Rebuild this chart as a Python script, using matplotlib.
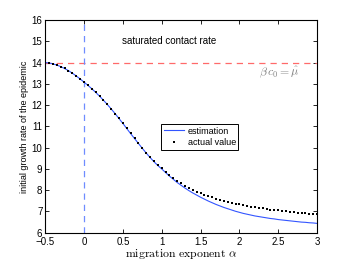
import numpy as np
import matplotlib
matplotlib.use("Agg")
import matplotlib.pyplot as plt

plt.rcParams['font.family'] = ['Liberation Sans', 'DejaVu Sans']
plt.rcParams['mathtext.fontset'] = 'cm'

alpha = [-0.50, -0.45, -0.40, -0.35, -0.30, -0.25, -0.20, -0.15, -0.10, -0.05,
         0.00, 0.05, 0.10, 0.15, 0.20, 0.25, 0.30, 0.35, 0.40, 0.45,
         0.50, 0.55, 0.60, 0.65, 0.70, 0.75, 0.80, 0.85, 0.90, 0.95,
         1.00, 1.05, 1.10, 1.15, 1.20, 1.25, 1.30, 1.35, 1.40, 1.45,
         1.50, 1.55, 1.60, 1.65, 1.70, 1.75, 1.80, 1.85, 1.90, 1.95,
         2.00, 2.05, 2.10, 2.15, 2.20, 2.25, 2.30, 2.35, 2.40, 2.45,
         2.50, 2.55, 2.60, 2.65, 2.70, 2.75, 2.80, 2.85, 2.90, 2.95, 3.00]

actual = [14.00, 13.98, 13.94, 13.88, 13.81, 13.72, 13.62, 13.50, 13.37, 13.23,
          13.08, 12.93, 12.77, 12.60, 12.42, 12.23, 12.03, 11.82, 11.60, 11.37,
          11.14, 10.91, 10.67, 10.44, 10.21, 9.99, 9.77, 9.57, 9.37, 9.19,
          9.02, 8.86, 8.71, 8.57, 8.44, 8.32, 8.21, 8.11, 8.02, 7.93,
          7.86, 7.79, 7.72, 7.66, 7.60, 7.55, 7.50, 7.45, 7.41, 7.37,
          7.33, 7.29, 7.26, 7.23, 7.20, 7.17, 7.14, 7.12, 7.09, 7.07,
          7.05, 7.03, 7.01, 6.99, 6.97, 6.95, 6.94, 6.92, 6.90, 6.89, 6.87]

estimation = [14.00, 13.98, 13.94, 13.88, 13.81, 13.72, 13.62, 13.50, 13.37, 13.23,
              13.08, 12.93, 12.77, 12.60, 12.42, 12.23, 12.03, 11.82, 11.60, 11.37,
              11.14, 10.90, 10.66, 10.43, 10.20, 9.97, 9.75, 9.54, 9.34, 9.16,
              9.00, 8.83, 8.66, 8.51, 8.36, 8.23, 8.10, 7.98, 7.87, 7.77,
              7.67, 7.58, 7.49, 7.41, 7.33, 7.26, 7.19, 7.13, 7.07, 7.01,
              6.96, 6.91, 6.87, 6.83, 6.79, 6.76, 6.73, 6.70, 6.67, 6.65,
              6.62, 6.60, 6.58, 6.56, 6.54, 6.52, 6.50, 6.49, 6.47, 6.46, 6.44]

saturation = 14.0
xticks = [-0.5, 0, 0.5, 1, 1.5, 2, 2.5, 3]
xticklabels = ['\u22120.5', '0', '0.5', '1', '1.5', '2', '2.5', '3']
yticks = [6, 7, 8, 9, 10, 11, 12, 13, 14, 15, 16]

fig = plt.figure(figsize=(3.5, 2.63), dpi=100)
ax = fig.add_axes([0.129, 0.115, 0.777, 0.809])

ax.axhline(saturation, color='#ff6a6a', linestyle=(0, (5, 4)), linewidth=0.9)
ax.axvline(0, color='#6f8cff', linestyle=(0, (5, 4)), linewidth=0.9)
ax.plot(alpha, estimation, color='#3355ff', linewidth=0.8, label='estimation')
ax.plot(alpha, actual, linestyle='none', marker='s', markersize=1.6,
        markeredgewidth=0, color='black', label='actual value')

ax.set_xlim(-0.5, 3)
ax.set_ylim(6, 16)
ax.set_xticks(xticks)
ax.set_xticklabels(xticklabels)
ax.set_yticks(yticks)
ax.tick_params(direction='in', top=True, right=True, length=3, width=0.6,
               labelsize=7, pad=2)
ax.tick_params(axis='x', pad=3)
for s in ax.spines.values():
    s.set_linewidth(0.8)

ax.text(0.49, 15.0, 'saturated contact rate', fontsize=7, va='center', ha='left')
ax.text(2.78, 13.53, r'$\beta\, c_0 = \hat{\mu}$', fontsize=8.5, va='center',
        ha='right', color='#808080')

ax.set_xlabel(r'$\mathrm{migration\ exponent}\ \alpha$', fontsize=8.5, labelpad=0)
ax.set_ylabel('initial growth rate of the epidemic', fontsize=6.5, labelpad=2)

leg = ax.legend(loc='center', bbox_to_anchor=(0.569, 0.45), fontsize=6.5,
                fancybox=False, framealpha=1, edgecolor='black',
                handlelength=2.2, handletextpad=0.4, borderpad=0.3,
                labelspacing=0.3, borderaxespad=0, markerscale=1.2)
leg.get_frame().set_linewidth(0.7)

fig.savefig('out.png', dpi=100)
